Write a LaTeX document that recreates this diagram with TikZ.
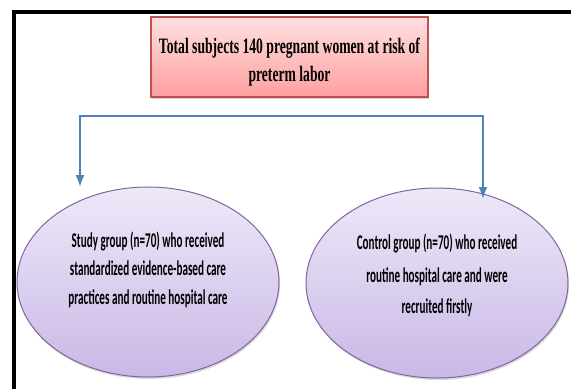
\documentclass[tikz,border=0pt]{standalone}
\usepackage{fontspec}
\usepackage{tikz}
\usetikzlibrary{shapes}
\usetikzlibrary{shadows}
\usetikzlibrary{arrows.meta}
\newfontfamily\headfont[FakeStretch=0.62]{Liberation Serif}
\newfontfamily\groupfont[FakeStretch=0.53]{Carlito}
\definecolor{framered}{HTML}{C0504D}
\definecolor{pinktop}{HTML}{FFE1E1}
\definecolor{pinkbot}{HTML}{FF9F9F}
\definecolor{lilaclite}{HTML}{EEE8F8}
\definecolor{lilacdark}{HTML}{C9B8E6}
\definecolor{lilacline}{HTML}{8064A2}
\definecolor{flowblue}{HTML}{4F81BD}
\newcommand{\groupnode}[4]{\node[group] (#1) at (#2,#3) {#4};}

\begin{document}
\begin{tikzpicture}[x=1pt,y=-1pt,
    headbox/.style={draw=framered,line width=1.2pt,top color=pinktop,bottom color=pinkbot,
        minimum width=277pt,minimum height=80pt,align=center,
        drop shadow={shadow xshift=1pt,shadow yshift=-2pt,opacity=0.35},
        font=\headfont\bfseries\fontsize{22}{28}\selectfont},
    group/.style={ellipse,draw=lilacline,line width=1pt,top color=lilaclite,bottom color=lilacdark,
        minimum width=262pt,minimum height=190pt,inner sep=0pt,align=center,
        drop shadow={shadow xshift=1pt,shadow yshift=-2pt,opacity=0.3},
        font=\groupfont\bfseries\fontsize{21}{28.5}\selectfont},
    flow/.style={draw=flowblue,line width=2pt,{Latex[length=12pt,width=9pt]}-{Latex[length=12pt,width=9pt]}}]
        \useasboundingbox (0,0) rectangle (571,389);
        \draw[line width=4pt] (14,389) -- (14,12) -- (571,12);
        \node[headbox] (total) at (289.5,57) {\rule{0pt}{25pt}Total subjects 140 pregnant women at risk of\\ preterm labor};
        \groupnode{study}{148}{282}{Study group (n=70) who received\\ standardized evidence-based care\\ practices and routine hospital care\rule[-28pt]{0pt}{1pt}}
        \groupnode{control}{437}{283}{Control group (n=70) who received\\[4pt] routine hospital care and were\\[3pt] recruited firstly\rule[-18pt]{0pt}{1pt}}
        \coordinate (tipL) at (80,187);
        \coordinate (tipR) at (483,199);
        \draw[flow] (tipL) -- (tipL |- 0,116) -- (tipR |- 0,116) -- (tipR);
    \end{tikzpicture}
\end{document}
